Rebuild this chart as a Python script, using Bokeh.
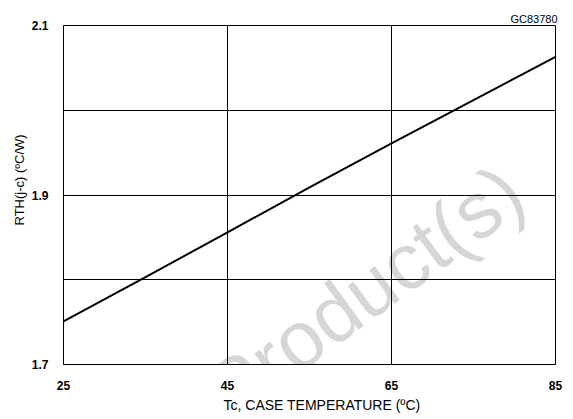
from bokeh.plotting import figure
from bokeh.models import FixedTicker, Range1d, Title
from bokeh.models import HTMLLabel
from bokeh.embed import file_html
from bokeh.resources import INLINE

# Data
tc = [25, 35, 45, 55, 65, 75, 85]
rth = [1.751, 1.803, 1.856, 1.909, 1.961, 2.012, 2.063]

x_ticks = [25, 45, 65, 85]
y_ticks = [1.7, 1.9, 2.1]
y_grid = [1.8, 1.9, 2.0]
x_grid = [45, 65]

FONT = "Liberation Sans"

p = figure(width=573, height=419, output_backend="svg", toolbar_location=None,
           x_range=Range1d(25, 85), y_range=Range1d(1.7, 2.1),
           min_border_left=63, min_border_right=18, min_border_top=25, min_border_bottom=55)

p.line(tc, rth, line_color="black", line_width=2)

p.outline_line_color = "black"
p.outline_line_width = 1

for ax in (p.xaxis[0], p.yaxis[0]):
    ax.axis_line_color = "black"
    ax.major_tick_line_color = None
    ax.minor_tick_line_color = None
    ax.major_label_text_font = FONT
    ax.major_label_text_font_style = "bold"
    ax.major_label_text_font_size = "12px"
    ax.major_label_text_color = "black"

p.xaxis.ticker = FixedTicker(ticks=x_ticks)
p.yaxis.ticker = FixedTicker(ticks=y_ticks)
p.xaxis.major_label_standoff = 10
p.yaxis.major_label_standoff = 9

p.xgrid.ticker = FixedTicker(ticks=x_grid)
p.ygrid.ticker = FixedTicker(ticks=y_grid)
p.xgrid.grid_line_color = "black"
p.ygrid.grid_line_color = "black"
p.xgrid.grid_line_width = 1
p.ygrid.grid_line_width = 1

# Watermark (translucent black so lines stay dark where it crosses them)
wm = HTMLLabel(x=302, y=72, x_units="screen", y_units="screen", text="Product(s)",
               angle=36, angle_units="deg", text_align="center", text_baseline="middle",
               text_font=FONT, text_font_size="80px", text_color="black", text_alpha=0.16)
p.add_layout(wm)

# Axis titles (as side-panel titles so they can sit off-centre like the original)
xt = Title(text="Tc, CASE TEMPERATURE (ºC)", align="left", offset=160, standoff=4,
           text_font=FONT, text_font_size="14px", text_font_style="normal", text_color="black")
p.add_layout(xt, "below")
yt = Title(text="RTH(j-c)  (ºC/W)", align="left", offset=139, standoff=4,
           text_font=FONT, text_font_size="13px", text_font_style="normal", text_color="black")
p.add_layout(yt, "left")
gc = Title(text="GC83780", align="right", offset=-2, standoff=2,
           text_font=FONT, text_font_size="11px", text_font_style="normal", text_color="black")
p.add_layout(gc, "above")

open("out.html", "w").write(file_html(p, INLINE))
